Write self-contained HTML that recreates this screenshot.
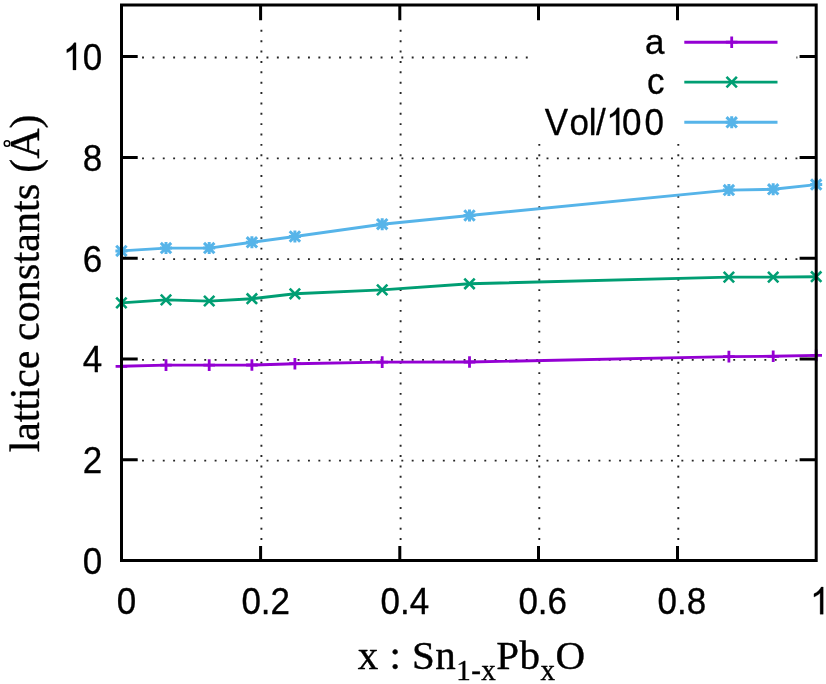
<!DOCTYPE html>
<html><head><meta charset="utf-8"><title>lattice constants</title>
<style>
html,body{margin:0;padding:0;background:#fff;}
body{width:826px;height:684px;overflow:hidden;}
svg{display:block;will-change:transform;}
.sans{font-family:"Liberation Sans",sans-serif;}
.serif{font-family:"Liberation Serif",serif;}
</style></head><body>
<svg width="826" height="684" viewBox="0 0 826 684">
<rect width="826" height="684" fill="#fff"/>
<g stroke="#262626" stroke-width="1.9" stroke-dasharray="1.9 8.472" fill="none">
<path d="M142.05 460.67H798.4"/>
<path d="M142.05 359.89H798.4"/>
<path d="M142.05 259.11H798.4"/>
<path d="M142.05 158.33H798.4"/>
<path d="M142.05 57.55H798.4"/>
<path d="M261.40 540.00V24"/>
<path d="M400.60 540.00V24"/>
<path d="M539.30 540.00V24"/>
<path d="M678.30 540.00V24"/>
</g>
<rect x="531" y="20" width="265.4" height="121" fill="#fff"/>
<polyline points="121.4,366.3 166.0,365.1 209.2,365.1 251.9,365.0 294.9,363.7 382.2,362.1 469.5,362.0 728.9,356.6 773.2,356.3 816.2,355.4" fill="none" stroke="#9400D3" stroke-width="2.9" stroke-linejoin="round"/>
<path d="M121.4 360.5V372.1M115.6 366.3H127.2" stroke="#9400D3" stroke-width="2.8" fill="none"/>
<path d="M166.0 359.3V370.9M160.2 365.1H171.8" stroke="#9400D3" stroke-width="2.8" fill="none"/>
<path d="M209.2 359.3V370.9M203.4 365.1H215.0" stroke="#9400D3" stroke-width="2.8" fill="none"/>
<path d="M251.9 359.2V370.8M246.1 365.0H257.7" stroke="#9400D3" stroke-width="2.8" fill="none"/>
<path d="M294.9 357.9V369.5M289.1 363.7H300.7" stroke="#9400D3" stroke-width="2.8" fill="none"/>
<path d="M382.2 356.3V367.9M376.4 362.1H388.0" stroke="#9400D3" stroke-width="2.8" fill="none"/>
<path d="M469.5 356.2V367.8M463.7 362.0H475.3" stroke="#9400D3" stroke-width="2.8" fill="none"/>
<path d="M728.9 350.8V362.4M723.1 356.6H734.7" stroke="#9400D3" stroke-width="2.8" fill="none"/>
<path d="M773.2 350.5V362.1M767.4 356.3H779.0" stroke="#9400D3" stroke-width="2.8" fill="none"/>
<path d="M816.2 349.6V361.2M810.4 355.4H822.0" stroke="#9400D3" stroke-width="2.8" fill="none"/>
<polyline points="121.4,302.9 166.0,299.9 209.2,301.1 251.9,298.7 294.9,293.8 382.2,289.9 469.5,283.8 728.9,277.1 773.2,277.1 816.2,276.7" fill="none" stroke="#009E73" stroke-width="2.9" stroke-linejoin="round"/>
<path d="M116.2 297.7L126.6 308.1M116.2 308.1L126.6 297.7" stroke="#009E73" stroke-width="2.6" fill="none"/>
<path d="M160.8 294.7L171.2 305.1M160.8 305.1L171.2 294.7" stroke="#009E73" stroke-width="2.6" fill="none"/>
<path d="M204.0 295.9L214.4 306.2M204.0 306.2L214.4 295.9" stroke="#009E73" stroke-width="2.6" fill="none"/>
<path d="M246.7 293.5L257.1 303.9M246.7 303.9L257.1 293.5" stroke="#009E73" stroke-width="2.6" fill="none"/>
<path d="M289.7 288.6L300.1 299.0M289.7 299.0L300.1 288.6" stroke="#009E73" stroke-width="2.6" fill="none"/>
<path d="M377.0 284.7L387.4 295.1M377.0 295.1L387.4 284.7" stroke="#009E73" stroke-width="2.6" fill="none"/>
<path d="M464.3 278.6L474.7 289.0M464.3 289.0L474.7 278.6" stroke="#009E73" stroke-width="2.6" fill="none"/>
<path d="M723.7 271.9L734.1 282.3M723.7 282.3L734.1 271.9" stroke="#009E73" stroke-width="2.6" fill="none"/>
<path d="M768.0 271.9L778.4 282.3M768.0 282.3L778.4 271.9" stroke="#009E73" stroke-width="2.6" fill="none"/>
<path d="M811.0 271.5L821.4 281.9M811.0 281.9L821.4 271.5" stroke="#009E73" stroke-width="2.6" fill="none"/>
<polyline points="121.4,250.9 166.0,248.1 209.2,248.1 251.9,242.3 294.9,236.5 382.2,224.2 469.5,215.5 728.9,190.1 773.2,189.3 816.2,184.6" fill="none" stroke="#56B4E9" stroke-width="2.9" stroke-linejoin="round"/>
<path d="M116.2 245.7L126.6 256.1M116.2 256.1L126.6 245.7M121.4 244.9V256.9M115.4 250.9H127.4" stroke="#56B4E9" stroke-width="3.0" fill="none"/>
<path d="M160.8 242.9L171.2 253.3M160.8 253.3L171.2 242.9M166.0 242.1V254.1M160.0 248.1H172.0" stroke="#56B4E9" stroke-width="3.0" fill="none"/>
<path d="M204.0 242.9L214.4 253.3M204.0 253.3L214.4 242.9M209.2 242.1V254.1M203.2 248.1H215.2" stroke="#56B4E9" stroke-width="3.0" fill="none"/>
<path d="M246.7 237.1L257.1 247.5M246.7 247.5L257.1 237.1M251.9 236.3V248.3M245.9 242.3H257.9" stroke="#56B4E9" stroke-width="3.0" fill="none"/>
<path d="M289.7 231.3L300.1 241.7M289.7 241.7L300.1 231.3M294.9 230.5V242.5M288.9 236.5H300.9" stroke="#56B4E9" stroke-width="3.0" fill="none"/>
<path d="M377.0 219.0L387.4 229.4M377.0 229.4L387.4 219.0M382.2 218.2V230.2M376.2 224.2H388.2" stroke="#56B4E9" stroke-width="3.0" fill="none"/>
<path d="M464.3 210.3L474.7 220.7M464.3 220.7L474.7 210.3M469.5 209.5V221.5M463.5 215.5H475.5" stroke="#56B4E9" stroke-width="3.0" fill="none"/>
<path d="M723.7 184.9L734.1 195.3M723.7 195.3L734.1 184.9M728.9 184.1V196.1M722.9 190.1H734.9" stroke="#56B4E9" stroke-width="3.0" fill="none"/>
<path d="M768.0 184.1L778.4 194.5M768.0 194.5L778.4 184.1M773.2 183.3V195.3M767.2 189.3H779.2" stroke="#56B4E9" stroke-width="3.0" fill="none"/>
<path d="M811.0 179.4L821.4 189.8M811.0 189.8L821.4 179.4M816.2 178.6V190.6M810.2 184.6H822.2" stroke="#56B4E9" stroke-width="3.0" fill="none"/>
<line x1="684.3" y1="42.2" x2="777.5" y2="42.2" stroke="#9400D3" stroke-width="2.9"/>
<path d="M731.7 36.4V48.0M725.9 42.2H737.5" stroke="#9400D3" stroke-width="2.8" fill="none"/>
<line x1="684.3" y1="82.1" x2="777.5" y2="82.1" stroke="#009E73" stroke-width="2.9"/>
<path d="M726.5 76.9L736.9 87.3M726.5 87.3L736.9 76.9" stroke="#009E73" stroke-width="2.6" fill="none"/>
<line x1="684.3" y1="122.3" x2="777.5" y2="122.3" stroke="#56B4E9" stroke-width="2.9"/>
<path d="M726.5 117.1L736.9 127.5M726.5 127.5L736.9 117.1M731.7 116.3V128.3M725.7 122.3H737.7" stroke="#56B4E9" stroke-width="3.0" fill="none"/>
<g stroke="#000" stroke-width="3" fill="none" stroke-linecap="butt">
<rect x="121.5" y="5.0" width="694.7" height="555.5"/>
<path d="M121.5 459.7H137.7M816.2 459.7H799.6"/>
<path d="M121.5 358.9H137.7M816.2 358.9H799.6"/>
<path d="M121.5 258.2H137.7M816.2 258.2H799.6"/>
<path d="M121.5 157.4H137.7M816.2 157.4H799.6"/>
<path d="M121.5 56.6H137.7M816.2 56.6H799.6"/>
<path d="M260.6 560.5V545.9M260.6 5.0V20.3"/>
<path d="M399.8 560.5V545.9M399.8 5.0V20.3"/>
<path d="M538.5 560.5V545.9M538.5 5.0V20.3"/>
<path d="M677.5 560.5V545.9M677.5 5.0V20.3"/>
</g>
<g class="sans" font-size="35" fill="#000" stroke="#000" stroke-width="0.3" stroke-linejoin="round">
<text transform="translate(102.2 573.8) scale(1 1.08)" text-anchor="end">0</text>
<text transform="translate(102.2 473.0) scale(1 1.08)" text-anchor="end">2</text>
<text transform="translate(102.2 372.2) scale(1 1.08)" text-anchor="end">4</text>
<text transform="translate(102.2 271.5) scale(1 1.08)" text-anchor="end">6</text>
<text transform="translate(102.2 170.7) scale(1 1.08)" text-anchor="end">8</text>
<text transform="translate(102.2 69.9) scale(1 1.08)" text-anchor="end">0</text>
<path d="M76.02 69.90H72.94V48.73Q71.83 49.87 70.03 51.02Q68.23 52.16 66.79 52.73V49.52Q69.37 48.21 71.30 46.35Q73.23 44.48 74.04 42.73H76.02Z"/>
<text transform="translate(126.6 614.2) scale(1 1.08)" text-anchor="middle">0</text>
<text transform="translate(265.7 614.2) scale(1 1.08)" text-anchor="middle">0.2</text>
<text transform="translate(404.8 614.2) scale(1 1.08)" text-anchor="middle">0.4</text>
<text transform="translate(542.7 614.2) scale(1 1.08)" text-anchor="middle">0.6</text>
<text transform="translate(681.8 614.2) scale(1 1.08)" text-anchor="middle">0.8</text>
<path d="M823.21 614.20H820.13V593.03Q819.02 594.17 817.22 595.32Q815.42 596.46 813.98 597.03V593.82Q816.56 592.51 818.49 590.65Q820.42 588.78 821.23 587.03H823.21Z"/>
<text transform="translate(664.4 54.1) scale(1 0.99)" text-anchor="end">a</text>
<text transform="translate(664.5 94.3) scale(1 1.03)" text-anchor="end">c</text>
<text transform="translate(0 135.0) scale(1 1.08)" x="544.8 569.5 588.8 595.9">Vol/</text>
<path d="M619.24 135.00H616.16V113.83Q615.05 114.97 613.25 116.12Q611.45 117.26 610.01 117.83V114.62Q612.59 113.31 614.52 111.45Q616.45 109.58 617.26 107.83H619.24Z"/>
<text transform="translate(0 135.0) scale(1 1.08)" x="622.0 644.6">00</text>
</g>
<g class="serif" fill="#000" stroke="#000" stroke-width="0.4" stroke-linejoin="round">
<text font-size="41.9" transform="translate(38.9 452.0) rotate(-90) scale(1 1.01)"><tspan x="-0.3" letter-spacing="-0.12">lattice</tspan><tspan x="111.0" letter-spacing="0.16">constants</tspan><tspan x="279.2">(A)</tspan></text>
<text font-size="41" x="357.8" y="668.6" letter-spacing="0.45">x : Sn<tspan font-size="29" dy="11.3">1-x</tspan><tspan dy="-11.3">Pb</tspan><tspan font-size="29" dy="11.3">x</tspan><tspan dy="-11.3">O</tspan></text>
</g>
<circle cx="7.0" cy="143.5" r="2.75" fill="none" stroke="#000" stroke-width="1.5"/>
</svg>
</body></html>
